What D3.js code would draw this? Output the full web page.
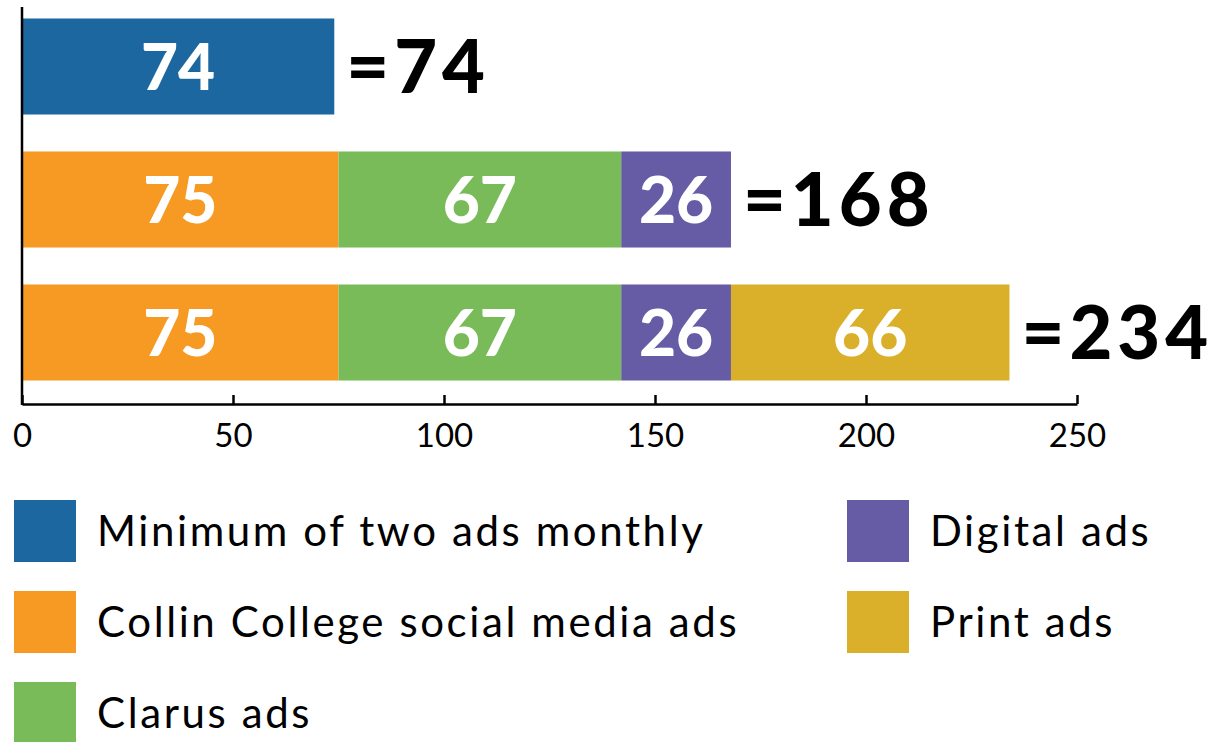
<!DOCTYPE html>
<html>
<head>
<meta charset="utf-8">
<script src="https://cdn.jsdelivr.net/npm/d3@7"></script>
<style>
  html, body { margin: 0; padding: 0; background: #fff; }
  svg { display: block; }
</style>
</head>
<body>
<svg id="chart" width="1212" height="742"></svg>
<script>
// ---- Data ----
const rows = ["Option 1", "Option 2", "Option 3"];
const series = ["Minimum of two ads monthly", "Collin College social media ads", "Clarus ads", "Digital ads", "Print ads"];
const minimumAds = [74, 0, 0];
const socialAds  = [0, 75, 75];
const clarusAds  = [0, 67, 67];
const digitalAds = [0, 26, 26];
const printAds   = [0, 0, 66];
const xTicks = [0, 50, 100, 150, 200, 250];
const colors = ["#1c67a0", "#f69a24", "#79bb59", "#665ba5", "#dab02a"];

const valuesBySeries = [minimumAds, socialAds, clarusAds, digitalAds, printAds];
const table = rows.map((r, i) => {
  const o = { row: r };
  series.forEach((s, j) => { o[s] = valuesBySeries[j][i]; });
  return o;
});
const totals = table.map(d => d3.sum(series, s => d[s]));

// ---- Layout ----
const svg = d3.select("#chart");
const x = d3.scaleLinear().domain([0, 250]).range([22, 1077]);
const y = d3.scaleBand().domain(rows).range([0, 399]).paddingInner(0.278).paddingOuter(0.139);
const color = d3.scaleOrdinal().domain(series).range(colors);
const axisY = 404;

const stack = d3.stack().keys(series)(table);

const g = svg.append("g");
stack.forEach(layer => {
  g.selectAll(null).data(layer.filter(d => d[1] > d[0])).enter()
    .append("rect")
    .attr("x", d => x(d[0]))
    .attr("y", d => y(d.data.row))
    .attr("width", d => x(d[1]) - x(d[0]))
    .attr("height", y.bandwidth())
    .attr("fill", color(layer.key));
  g.selectAll(null).data(layer.filter(d => d[1] > d[0])).enter()
    .append("text")
    .attr("x", d => (x(d[0]) + x(d[1])) / 2)
    .attr("y", d => y(d.data.row) + y.bandwidth() / 2)
    .attr("dy", "0.36em")
    .attr("text-anchor", "middle")
    .attr("fill", "#fff")
    .style("font-family", "Lato, sans-serif")
    .style("font-weight", 900)
    .style("font-size", "64px")
    .text(d => d[1] - d[0]);
});

// totals
g.selectAll(".total").data(table).enter()
  .append("text")
  .attr("class", "total")
  .attr("x", (d, i) => x(totals[i]) + 12)
  .attr("y", d => y(d.row) + y.bandwidth() / 2)
  .attr("dy", "0.36em")
  .attr("fill", "#000")
  .style("font-family", "Lato, sans-serif")
  .style("font-weight", 900)
  .style("font-size", "74px")
  .style("letter-spacing", "5px")
  .text((d, i) => "=" + totals[i]);

// axes
const xAxis = d3.axisBottom(x).tickValues(xTicks).tickSize(-9).tickPadding(20).tickSizeOuter(0);
const ax = svg.append("g").attr("transform", `translate(0,${axisY})`).call(xAxis);
ax.select(".domain").attr("stroke", "#000").attr("stroke-width", 2.5);
ax.selectAll(".tick line").attr("stroke", "#000").attr("stroke-width", 2.5);
ax.selectAll(".tick text")
  .attr("fill", "#000")
  .attr("dy", "0.71em")
  .style("font-family", "Lato, sans-serif")
  .style("font-size", "33px");

svg.append("line")
  .attr("x1", x(0)).attr("x2", x(0))
  .attr("y1", 7).attr("y2", axisY + 1)
  .attr("stroke", "#000").attr("stroke-width", 2.5);

// legend
const legendPos = [
  { x: 14, y: 500 }, { x: 14, y: 591 }, { x: 14, y: 682 },
  { x: 847, y: 500 }, { x: 847, y: 591 }
];
const lg = svg.append("g");
series.forEach((s, i) => {
  const p = legendPos[i];
  lg.append("rect").attr("x", p.x).attr("y", p.y).attr("width", 62).attr("height", 62).attr("fill", color(s));
  lg.append("text")
    .attr("x", p.x + 83).attr("y", p.y + 31).attr("dy", "0.36em")
    .attr("fill", "#000")
    .style("font-family", "Lato, sans-serif")
    .style("font-size", "42px")
    .style("letter-spacing", "2.6px")
    .text(s);
});
</script>
</body>
</html>
